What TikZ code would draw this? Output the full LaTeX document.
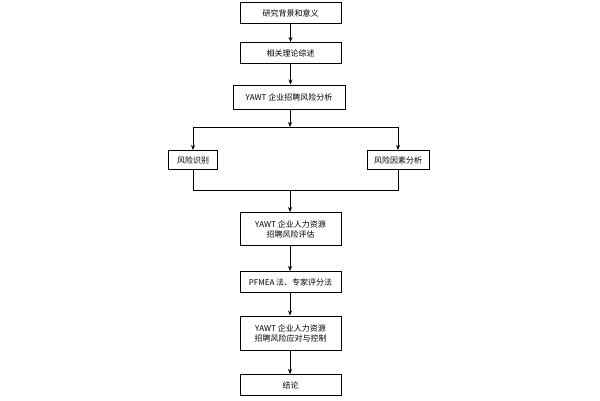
\documentclass[tikz,border=0pt]{standalone}
\usepackage{fontspec}
\setmainfont{Liberation Serif}
\newfontfamily\cjk{Noto Sans CJK SC}
\usetikzlibrary{arrows.meta}
\begin{document}
\begin{tikzpicture}[x=1pt,y=-1pt,
  bx/.style={draw,line width=1pt,fill=white,font=\cjk\fontsize{8}{10}\selectfont,align=center,inner sep=0pt,minimum height=21pt},
  ln/.style={line width=0.8pt},
  ar/.style={ln,-{Stealth[length=5pt,width=4pt]}}]
\useasboundingbox (0,0) rectangle (600,400);
\fill[white] (0,0) rectangle (600,400);
\node[bx,minimum width=101pt] (a) at (290.5,13) {研究背景和意义};
\node[bx,minimum width=101pt] (b) at (290.5,53) {相关理论综述};
\node[bx,minimum width=112pt,minimum height=24pt] (c) at (289,97) {YAWT 企业招聘风险分析};
\node[bx,minimum width=49pt,minimum height=19pt] (l) at (193,160) {风险识别};
\node[bx,minimum width=62pt,minimum height=19pt] (r) at (398,160) {风险因素分析};
\node[bx,minimum width=101pt,minimum height=33pt] (d) at (290.5,229) {YAWT 企业人力资源\\招聘风险评估};
\node[bx,minimum width=101pt] (e) at (290.5,282) {PFMEA 法、专家评分法};
\node[bx,minimum width=101pt,minimum height=34pt] (f) at (290.5,333) {YAWT 企业人力资源\\招聘风险应对与控制};
\node[bx,minimum width=101pt] (g) at (290.5,385) {结论};
\coordinate (s) at (290,127);
\coordinate (m) at (290,190);
\draw[ar] (a) -- (b);
\draw[ar] (b) -- (c.north -| b);
\draw[ar] (c.south -| s) -- (s);
\draw[ln] (l.north |- s) -- (r.north |- s);
\draw[ar] (l.north |- s) -- (l.north);
\draw[ar] (r.north |- s) -- (r.north);
\draw[ln] (l.south) -- (l.south |- m) -- (r.south |- m) -- (r.south);
\draw[ar] (m) -- (d.north -| m);
\draw[ar] (d.south -| m) -- (e.north -| m);
\draw[ar] (e.south -| m) -- (f.north -| m);
\draw[ar] (f.south -| m) -- (g.north -| m);
\end{tikzpicture}
\end{document}
